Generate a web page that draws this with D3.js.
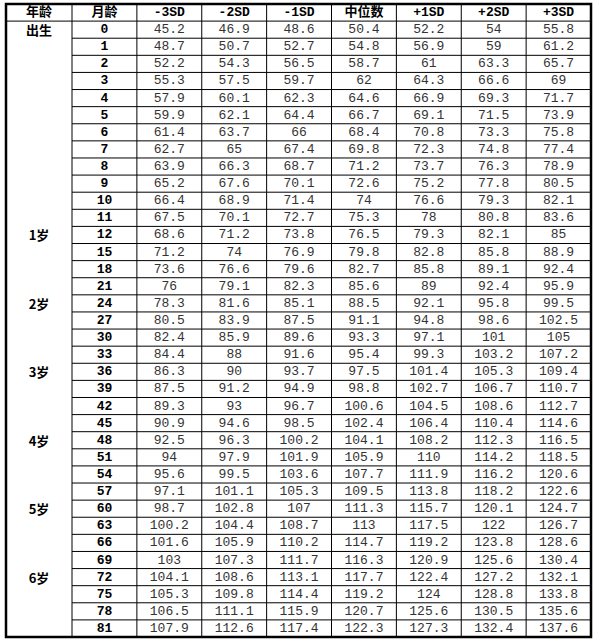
<!DOCTYPE html>
<html><head><meta charset="utf-8">
<script src="https://cdn.jsdelivr.net/npm/d3@7"></script>
<style>body{margin:0;background:#fff}</style>
</head><body><div id="chart"></div>
<script>
'use strict'

var headers = ["年龄", "月龄", "-3SD", "-2SD", "-1SD", "中位数", "+1SD", "+2SD", "+3SD"];
var months = [0,1,2,3,4,5,6,7,8,9,10,11,12,15,18,21,24,27,30,33,36,39,42,45,48,51,54,57,60,63,66,69,72,75,78,81];
var ageLabels = {0:"出生", 12:"1岁", 24:"2岁", 36:"3岁", 48:"4岁", 60:"5岁", 72:"6岁"};
var heights = [
	[45.2,46.9,48.6,50.4,52.2,54,55.8],
	[48.7,50.7,52.7,54.8,56.9,59,61.2],
	[52.2,54.3,56.5,58.7,61,63.3,65.7],
	[55.3,57.5,59.7,62,64.3,66.6,69],
	[57.9,60.1,62.3,64.6,66.9,69.3,71.7],
	[59.9,62.1,64.4,66.7,69.1,71.5,73.9],
	[61.4,63.7,66,68.4,70.8,73.3,75.8],
	[62.7,65,67.4,69.8,72.3,74.8,77.4],
	[63.9,66.3,68.7,71.2,73.7,76.3,78.9],
	[65.2,67.6,70.1,72.6,75.2,77.8,80.5],
	[66.4,68.9,71.4,74,76.6,79.3,82.1],
	[67.5,70.1,72.7,75.3,78,80.8,83.6],
	[68.6,71.2,73.8,76.5,79.3,82.1,85],
	[71.2,74,76.9,79.8,82.8,85.8,88.9],
	[73.6,76.6,79.6,82.7,85.8,89.1,92.4],
	[76,79.1,82.3,85.6,89,92.4,95.9],
	[78.3,81.6,85.1,88.5,92.1,95.8,99.5],
	[80.5,83.9,87.5,91.1,94.8,98.6,102.5],
	[82.4,85.9,89.6,93.3,97.1,101,105],
	[84.4,88,91.6,95.4,99.3,103.2,107.2],
	[86.3,90,93.7,97.5,101.4,105.3,109.4],
	[87.5,91.2,94.9,98.8,102.7,106.7,110.7],
	[89.3,93,96.7,100.6,104.5,108.6,112.7],
	[90.9,94.6,98.5,102.4,106.4,110.4,114.6],
	[92.5,96.3,100.2,104.1,108.2,112.3,116.5],
	[94,97.9,101.9,105.9,110,114.2,118.5],
	[95.6,99.5,103.6,107.7,111.9,116.2,120.6],
	[97.1,101.1,105.3,109.5,113.8,118.2,122.6],
	[98.7,102.8,107,111.3,115.7,120.1,124.7],
	[100.2,104.4,108.7,113,117.5,122,126.7],
	[101.6,105.9,110.2,114.7,119.2,123.8,128.6],
	[103,107.3,111.7,116.3,120.9,125.6,130.4],
	[104.1,108.6,113.1,117.7,122.4,127.2,132.1],
	[105.3,109.8,114.4,119.2,124,128.8,133.8],
	[106.5,111.1,115.9,120.7,125.6,130.5,135.6],
	[107.9,112.6,117.4,122.3,127.3,132.4,137.6]
];

var width = 599, height = 641;
var x0 = 6, x1 = 591, y0 = 4, y1 = 637;

var svg = d3.select("#chart").append("svg")
	.attr("width", width).attr("height", height);

// first column a bit wider than the others
var colEdges = [x0, 72].concat(d3.range(1, 9).map(function(i){ return 72 + i * (x1 - 72) / 8; }));
var y = d3.scaleBand().domain(d3.range(months.length + 1)).range([y0, y1]);

function cx(i){ return (colEdges[i] + colEdges[i + 1]) / 2; }

// grid
var g = svg.append("g");
g.append("line").attr("x1", x0).attr("x2", x1).attr("y1", y(1)).attr("y2", y(1));
months.forEach(function(m, i){
	if(i == 0) return;
	g.append("line").attr("x1", colEdges[1]).attr("x2", x1)
		.attr("y1", y(i + 1)).attr("y2", y(i + 1));
});
colEdges.forEach(function(x){
	g.append("line").attr("x1", x).attr("x2", x).attr("y1", y0).attr("y2", y1);
});
g.selectAll("line").attr("stroke", "#000").attr("stroke-width", 1);
svg.append("rect").attr("x", x0).attr("y", y0)
	.attr("width", x1 - x0).attr("height", y1 - y0)
	.attr("fill", "none").attr("stroke", "#000").attr("stroke-width", 2.5);

// header
svg.selectAll("text.head").data(headers).enter().append("text")
	.attr("class", "head")
	.attr("x", function(d, i){ return cx(i); })
	.attr("y", y(0) + y.bandwidth() / 2)
	.attr("text-anchor", "middle").attr("dominant-baseline", "central")
	.style("font-family", "'Liberation Mono', 'Noto Sans CJK SC', monospace")
	.style("font-weight", "bold").style("font-size", "13px")
	.text(function(d){ return d; });

var rows = svg.selectAll("g.row").data(months).enter().append("g")
	.attr("class", "row")
	.attr("transform", function(d, i){ return "translate(0," + (y(i + 1) + y.bandwidth() / 2) + ")"; });

rows.append("text")
	.attr("x", cx(0)).attr("text-anchor", "middle").attr("dominant-baseline", "central")
	.style("font-family", "'Noto Sans CJK SC', sans-serif").style("font-weight", "bold").style("font-size", "13px")
	.text(function(d){ return ageLabels[d] || ""; });

rows.append("text")
	.attr("x", cx(1)).attr("text-anchor", "middle").attr("dominant-baseline", "central")
	.style("font-family", "'Liberation Mono', monospace").style("font-weight", "bold").style("font-size", "13px")
	.text(function(d){ return d; });

rows.each(function(d, i){
	d3.select(this).selectAll("text.v").data(heights[i]).enter().append("text")
		.attr("class", "v")
		.attr("x", function(v, j){ return cx(j + 2); })
		.attr("text-anchor", "middle").attr("dominant-baseline", "central")
		.style("font-family", "'Liberation Mono', monospace").style("font-size", "13px")
		.style("fill", "#333")
		.text(function(v){ return v; });
});
</script>
</body></html>
